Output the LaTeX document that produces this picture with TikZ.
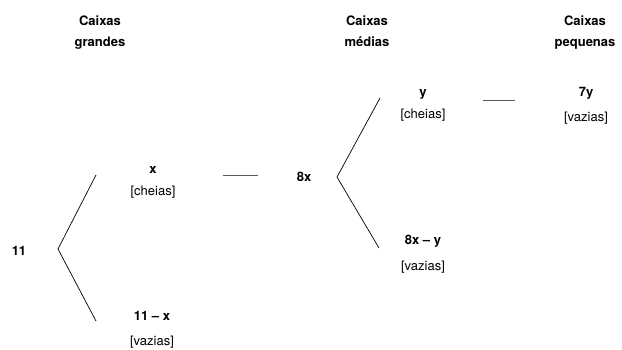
\documentclass[tikz,border=0pt]{standalone}
\usepackage{fontspec}
\setmainfont{TeX Gyre Heros}
\begin{document}
\begin{tikzpicture}[x=1pt,y=-1pt,
  lbl/.style={inner sep=0pt,anchor=base,font=\fontsize{13}{15}\selectfont},
  val/.style={lbl,font=\fontsize{13}{15}\selectfont\bfseries},
  head/.style={val},
  branch/.style={draw=black,line width=0.7pt},
  link/.style={draw=black!65,line width=0.9pt}]
\useasboundingbox (0,0) rectangle (622,350);

% column headings
\node[head] (h1a) at (100,26) {Caixas};
\node[head] (h1b) at (100,47) {grandes};
\node[head] (h2a) at (367,26) {Caixas};
\node[head] (h2b) at (367,47) {médias};
\node[head] (h3a) at (585,26) {Caixas};
\node[head] (h3b) at (585,47) {pequenas};

% large boxes
\node[val] (n11) at (19,255) {11};
\node[val] (nx) at (153,174) {x};
\node[lbl] (nxc) at (153,196) {[cheias]};
\node[val] (n11x) at (152,320) {11 – x};
\node[lbl] (n11xv) at (152,345) {[vazias]};

% medium boxes
\node[val] (n8x) at (304,182) {8x};
\node[val] (ny) at (423,97) {y};
\node[lbl] (nyc) at (423,119) {[cheias]};
\node[val] (n8xy) at (423,245) {8x – y};
\node[lbl] (n8xyv) at (423,271) {[vazias]};

% small boxes
\node[val] (n7y) at (586,97) {7y};
\node[lbl] (n7yv) at (586,122) {[vazias]};

% branch points
\coordinate (v1) at (58,249);
\coordinate (v1t) at (96,175);
\coordinate (v1b) at (96,321);
\coordinate (v2) at (337,177);
\coordinate (v2t) at (380,98);
\coordinate (v2b) at (379,248);

\draw[branch] (v1t) -- (v1) -- (v1b);
\draw[branch] (v2t) -- (v2) -- (v2b);

% links
\coordinate (l1a) at (223,175);
\coordinate (l1b) at (258,175);
\coordinate (l2a) at (483,100);
\coordinate (l2b) at (515,100);
\draw[link] (l1a) -- (l1b);
\draw[link] (l2a) -- (l2b);
\end{tikzpicture}
\end{document}
